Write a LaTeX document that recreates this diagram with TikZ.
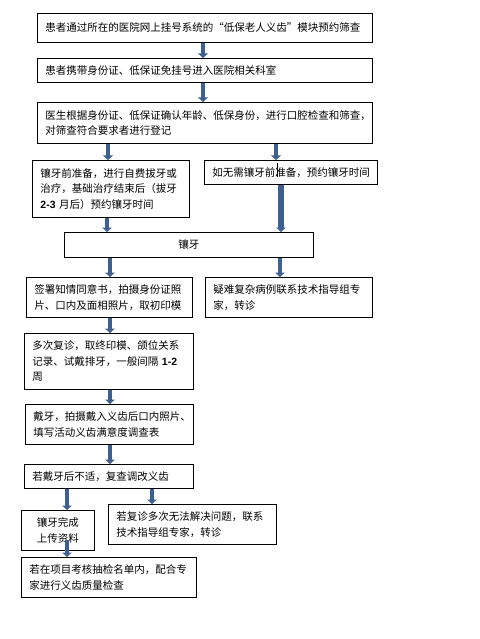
\documentclass[tikz,border=0pt]{standalone}
\usepackage{fontspec}
\setmainfont{Noto Sans CJK SC}
\newfontfamily\lat{Liberation Sans}
\usetikzlibrary{arrows.meta}
\definecolor{arrblue}{RGB}{62,96,145}
\begin{document}
\begin{tikzpicture}[x=1pt,y=-1pt,
  box/.style={draw, line width=0.9pt, anchor=north west, inner xsep=8pt, inner ysep=0pt,
              align=left, font=\fontsize{10.5}{15.5}\selectfont},
  arr/.style={line width=4.5pt, color=arrblue, -{Triangle[width=9.5pt,length=4.5pt]}}]
\useasboundingbox (0,0) rectangle (479,639);
% boxes
\node[box, text width=319pt, minimum height=29pt] (b1) at (37,13) {患者通过所在的医院网上挂号系统的“低保老人义齿”模块预约筛查};
\node[box, text width=319pt, minimum height=24pt] (b2) at (37,58) {患者携带身份证、低保证免挂号进入医院相关科室};
\node[box, text width=319pt, minimum height=41pt] (b3) at (37,102) {医生根据身份证、低保证确认年龄、低保身份，进行口腔检查和筛查，\\对筛查符合要求者进行登记};
\node[box, text width=141pt, minimum height=57pt] (b4l) at (32,160) {镶牙前准备，进行自费拔牙或\\治疗，基础治疗结束后（拔牙\\{\lat\bfseries 2-3} 月后）预约镶牙时间};
\node[box, text width=157pt, minimum height=24pt] (b4r) at (204,160) {如无需镶牙前准备，预约镶牙时间};
\node[box, text width=233pt, minimum height=25pt, align=center] (b5) at (64,232) {镶牙};
\node[box, text width=150pt, minimum height=40pt] (b6l) at (26,277) {签署知情同意书，拍摄身份证照\\片、口内及面相照片，取初印模};
\node[box, text width=151pt, minimum height=40pt] (b6r) at (205,277) {疑难复杂病例联系技术指导组专\\家，转诊};
\node[box, text width=153pt, minimum height=56pt] (b7) at (24,333) {多次复诊，取终印模、颌位关系\\记录、试戴排牙，一般间隔 {\lat\bfseries 1-2}\\周};
\node[box, text width=152pt, minimum height=40pt] (b8) at (25,404) {戴牙，拍摄戴入义齿后口内照片、\\填写活动义齿满意度调查表};
\node[box, text width=153pt, minimum height=24pt] (b9) at (24,464) {若戴牙后不适，复查调改义齿};
\node[box, text width=57pt, minimum height=40pt, align=center] (b10) at (21,510) {镶牙完成\\上传资料};
\node[box, text width=152pt, minimum height=40pt] (b11) at (108,504) {若复诊多次无法解决问题，联系\\技术指导组专家，转诊};
\node[box, text width=159pt, minimum height=40pt] (b12) at (21,557) {若在项目考核抽检名单内，配合专\\家进行义齿质量检查};
% x positions of the arrows
\coordinate (xa) at (203,0);
\coordinate (xb) at (108,0);
\coordinate (xc) at (276,0);
\coordinate (xd) at (107,0);
\coordinate (xe) at (281,0);
\coordinate (xf) at (110,0);
\coordinate (xg) at (280,0);
\coordinate (xh) at (67,0);
\coordinate (xi) at (152,0);
\coordinate (s10) at (67,540);
% arrows
\draw[arr] (b1.south -| xa) -- (b2.north -| xa);
\draw[arr] (b2.south -| xa) -- (b3.north -| xa);
\draw[arr] (b3.south -| xb) -- (b4l.north -| xb);
\draw[arr] (b3.south -| xc) -- (b4r.north -| xc);
\draw[arr] (b4l.south -| xd) -- (b5.north -| xd);
\draw[arr, line width=5.5pt] (b4r.south -| xe) -- (b5.north -| xe);
\draw[arr] (b5.south -| xf) -- (b6l.north -| xf);
\draw[arr] (b5.south -| xg) -- (b6r.north -| xg);
\draw[arr] (b6l.south -| xf) -- (b7.north -| xf);
\draw[arr] (b7.south -| xf) -- (b8.north -| xf);
\draw[arr] (b8.south -| xf) -- (b9.north -| xf);
\draw[arr] (b9.south -| xh) -- (b10.north -| xh);
\draw[arr] (b9.south -| xi) -- (b11.north -| xi);
\draw[arr] (s10) -- (b12.north -| xh);
% stray cursor mark in the box
\draw[line width=0.6pt] (277,163) -- (277,177);
\end{tikzpicture}
\end{document}
